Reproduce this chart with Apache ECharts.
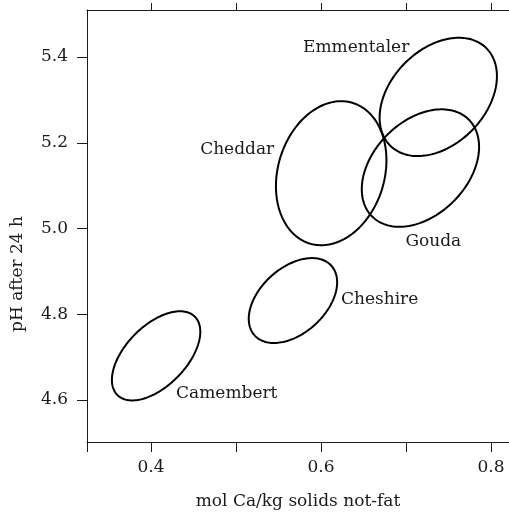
<!DOCTYPE html>
<html>
<head>
<meta charset="utf-8">
<script src="https://cdn.jsdelivr.net/npm/echarts@6/dist/echarts.min.js"></script>
<style>
  html, body { margin: 0; padding: 0; background: #fff; }
  #chart { width: 509px; height: 513px; }
</style>
</head>
<body>
<div id="chart"></div>
<script>
// Cheese groups: each region is drawn as an ellipse given by its centre,
// its half-spread along each axis and the correlation between the two.
const cheeses = ['Camembert', 'Cheshire', 'Cheddar', 'Emmentaler', 'Gouda'];
const centreCa = [0.406, 0.567, 0.612, 0.738, 0.717];   // mol Ca/kg solids not-fat
const centrePH = [4.703, 4.832, 5.129, 5.307, 5.141];   // pH after 24 h
const spreadCa = [0.052, 0.052, 0.065, 0.069, 0.069];
const spreadPH = [0.104, 0.099, 0.168, 0.138, 0.137];
const correlation = [0.54, 0.43, 0.18, 0.35, 0.36];

const xTicks = [0.4, 0.5, 0.6, 0.7, 0.8];
const xLabels = [0.4, 0.6, 0.8];
const yTicks = [4.6, 4.8, 5.0, 5.2, 5.4];

const X_MIN = 0.3247, X_MAX = 0.8212;
const Y_MIN = 4.502, Y_MAX = 5.5097;

// Label placement relative to each ellipse centre (pixels)
const labelStyle = {
  Camembert:  { dx: 20,  dy: 38,  align: 'left' },
  Cheshire:   { dx: 48,  dy: -1,  align: 'left' },
  Cheddar:    { dx: -57, dy: -24, align: 'right' },
  Emmentaler: { dx: -29, dy: -49, align: 'right' },
  Gouda:      { dx: -15, dy: 74,  align: 'left' }
};

const FONT = '"DejaVu Serif", serif';
const INK = '#1a1a1a';

const seriesData = cheeses.map((n, i) => ({
  name: n,
  value: [centreCa[i], centrePH[i], spreadCa[i], spreadPH[i], correlation[i]]
}));

function renderEllipse(params, api) {
  const cx = api.value(0), cy = api.value(1);
  const sx = api.value(2), sy = api.value(3), r = api.value(4);
  const s = Math.sqrt(1 - r * r);
  const pts = [];
  const N = 160;
  for (let k = 0; k < N; k++) {
    const t = (2 * Math.PI * k) / N;
    const x = cx + sx * Math.cos(t);
    const y = cy + sy * (r * Math.cos(t) + s * Math.sin(t));
    pts.push(api.coord([x, y]));
  }
  const c = api.coord([cx, cy]);
  const name = cheeses[params.dataIndex];
  const ls = labelStyle[name];
  return {
    type: 'group',
    children: [
      {
        type: 'polygon',
        shape: { points: pts, smooth: 0 },
        style: { fill: 'none', stroke: '#000', lineWidth: 2 }
      },
      {
        type: 'text',
        x: c[0] + ls.dx,
        y: c[1] + ls.dy,
        style: {
          text: name,
          fill: INK,
          font: '17px ' + FONT,
          align: ls.align,
          verticalAlign: 'middle'
        }
      }
    ]
  };
}

const chart = echarts.init(document.getElementById('chart'));
chart.setOption({
  animation: false,
  grid: {
    left: 87, top: 10, right: 0, bottom: 71,
    containLabel: false,
    outerBoundsMode: 'none'
  },
  xAxis: [
    {
      type: 'value',
      position: 'bottom',
      min: X_MIN,
      max: X_MAX,
      name: 'mol Ca/kg solids not-fat',
      nameLocation: 'middle',
      nameGap: 51,
      nameTextStyle: { fontFamily: FONT, fontSize: 17, color: INK },
      axisLine: { show: true, lineStyle: { color: INK, width: 1 } },
      axisTick: {
        show: true, inside: false, length: 10,
        customValues: [X_MIN].concat(xTicks),
        lineStyle: { color: INK, width: 1 }
      },
      axisLabel: {
        show: true, margin: 17,
        customValues: xLabels,
        formatter: v => v.toFixed(1),
        fontFamily: FONT, fontSize: 17, color: INK
      },
      splitLine: { show: false }
    },
    {
      type: 'value',
      position: 'top',
      min: X_MIN,
      max: X_MAX,
      axisLine: { show: true, lineStyle: { color: INK, width: 1 } },
      axisTick: {
        show: true, inside: false, length: 7,
        customValues: xTicks,
        lineStyle: { color: INK, width: 1 }
      },
      axisLabel: { show: false },
      splitLine: { show: false }
    }
  ],
  yAxis: {
    type: 'value',
    min: Y_MIN,
    max: Y_MAX,
    axisLine: { show: true, lineStyle: { color: INK, width: 1 } },
    axisTick: {
      show: true, inside: false, length: 10,
      customValues: yTicks,
      lineStyle: { color: INK, width: 1 }
    },
    axisLabel: {
      show: true, margin: 19,
      customValues: yTicks,
      formatter: v => v.toFixed(1),
      fontFamily: FONT, fontSize: 17, color: INK
    },
    splitLine: { show: false }
  },
  graphic: [
    {
      type: 'text',
      x: 18,
      y: 274,
      rotation: Math.PI / 2,
      style: {
        text: 'pH after 24 h',
        fill: INK,
        font: '17px ' + FONT,
        align: 'center',
        verticalAlign: 'middle'
      }
    }
  ],
  series: [
    {
      type: 'custom',
      xAxisIndex: 0,
      yAxisIndex: 0,
      renderItem: renderEllipse,
      data: seriesData,
      clip: false,
      silent: true
    }
  ]
});
</script>
</body>
</html>
